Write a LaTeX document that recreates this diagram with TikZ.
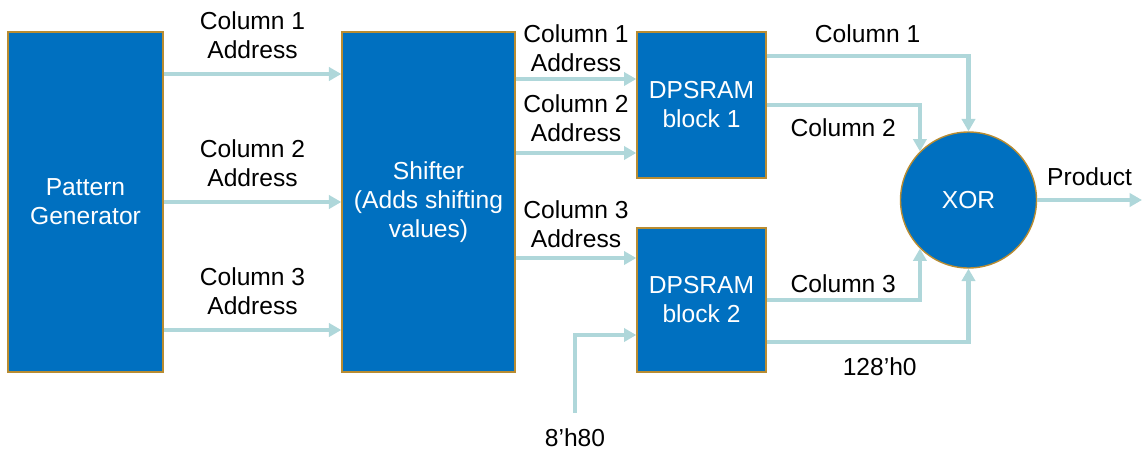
\documentclass[tikz,border=0pt]{standalone}
\usepackage{fontspec}
\setmainfont{Liberation Sans}
\usetikzlibrary{positioning}
\usetikzlibrary{calc}
\usetikzlibrary{arrows.meta}

\definecolor{blockblue}{RGB}{0,112,192}
\definecolor{blockedge}{RGB}{184,140,50}
\definecolor{wire}{RGB}{175,215,218}

\begin{document}
\begin{tikzpicture}[
    block/.style={
        draw=blockedge,
        line width=.8pt,
        fill=blockblue,
        text=white,
        align=center,
        inner sep=0pt,
        font=\fontsize{14}{16.5}\selectfont
    },
    flow/.style={
        wire,
        line width=2.3pt,
        -{Triangle[length=7pt,width=7.5pt]}
    },
    lbl/.style={
        text=black,
        align=center,
        inner sep=0pt,
        font=\fontsize{14}{16.5}\selectfont
    }
]

    \useasboundingbox (0,0) rectangle (22.88,9.08);

    % Blocks
    \node[block, minimum width=3.1cm, minimum height=6.8cm] (pg) at (1.71,5.04) {Pattern\\Generator};
    \node[block, minimum width=3.46cm, minimum height=6.8cm] (shifter) at (8.57,5.04) {Shifter\\(Adds shifting\\values)};
    \node[block, minimum width=2.58cm, minimum height=2.92cm] (dp1) at (14.03,6.98) {DPSRAM\\block 1};
    \node[block, minimum width=2.58cm, minimum height=2.88cm] (dp2) at (14.03,3.08) {DPSRAM\\block 2};
    \node[block, circle, minimum size=2.72cm] (xor) at (19.37,5.08) {XOR};

    % Pattern generator -> shifter
    \draw[flow] (pg.east |- 0,7.6) -- (shifter.west |- 0,7.6)
        node[lbl, midway, above=7.5pt] (adr1) {Column 1\\Address};
    \draw[flow] (pg) -- (shifter)
        node[lbl, midway, above=7.5pt] (adr2) {Column 2\\Address};
    \draw[flow] (pg.east |- 0,2.48) -- (shifter.west |- 0,2.48)
        node[lbl, midway, above=7.5pt] (adr3) {Column 3\\Address};

    % Shifter -> DPSRAM blocks
    \draw[flow] (shifter.east |- 0,7.5) -- (dp1.west |- 0,7.5)
        node[lbl, midway, above=3pt] (sadr1) {Column 1\\Address};
    \draw[flow] (shifter.east |- 0,6.02) -- (dp1.west |- 0,6.02)
        node[lbl, midway, above=5.5pt] (sadr2) {Column 2\\Address};
    \draw[flow] (shifter.east |- 0,3.92) -- (dp2.west |- 0,3.92)
        node[lbl, midway, above=4.5pt] (sadr3) {Column 3\\Address};

    % Constant input of block 2
    \coordinate (c80) at (11.5,0.82);
    \node[lbl, below=9pt] (c80lbl) at (c80) {8'h80};
    \draw[flow] (c80) |- (dp2.west |- 0,2.38);

    % DPSRAM outputs -> XOR
    \draw[flow] (dp1.east |- 0,7.96) -| (xor.north)
        node[lbl, pos=.25, above=6.5pt] (col1) {Column 1};
    \draw[flow] (dp1.east) -| (xor.north west)
        node[lbl, pos=.25, below=6.5pt] (col2) {Column 2};
    \draw[flow] (dp2.east) -| (xor.south west)
        node[lbl, pos=.25, above=3pt] (col3) {Column 3};
    \draw[flow] (dp2.east |- 0,2.24) -| (xor.south)
        node[lbl, pos=.28, below=7.5pt] (zero) {128'h0};

    % Output
    \coordinate (out) at (22.84,5.08);
    \draw[flow] (xor) -- (out)
        node[lbl, midway, above=7pt] (prod) {Product};

\end{tikzpicture}
\end{document}
